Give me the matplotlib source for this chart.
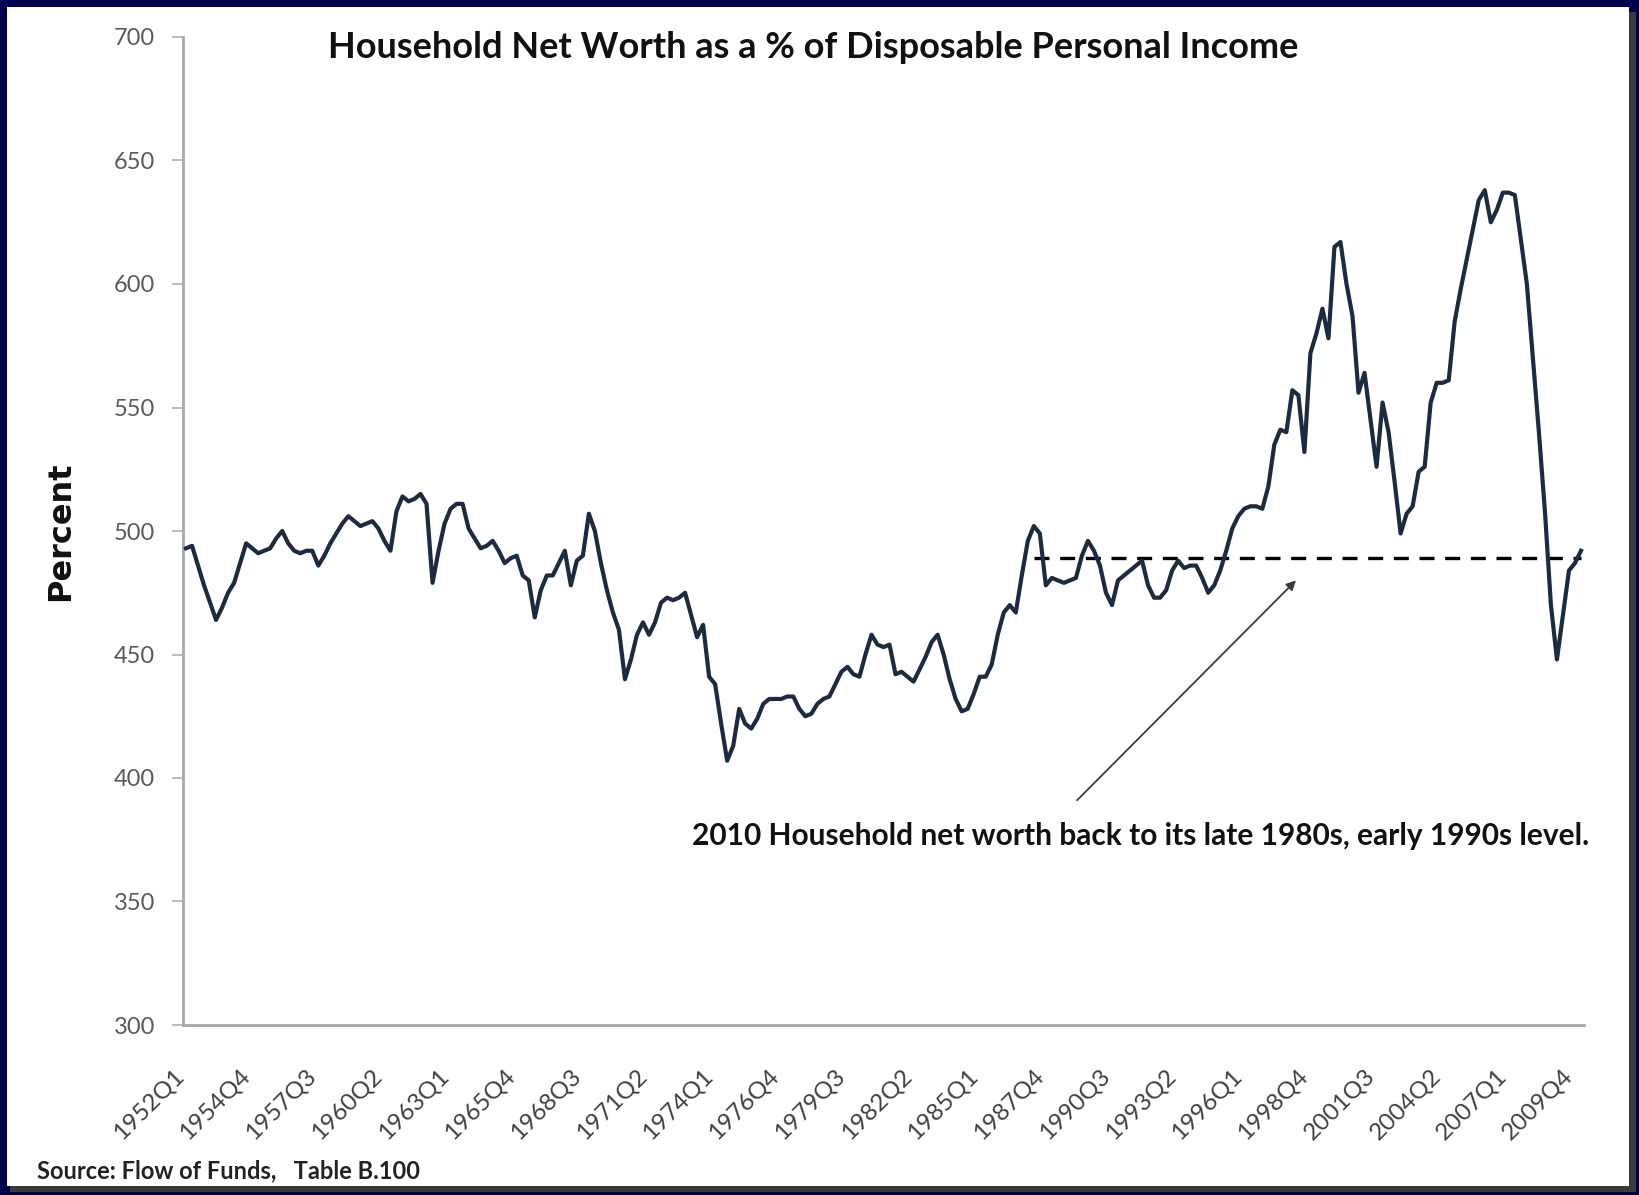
import matplotlib
matplotlib.use("Agg")
import matplotlib.pyplot as plt
from matplotlib.patches import Rectangle
from matplotlib.transforms import ScaledTranslation

plt.rcParams["font.family"] = ["Lato", "DejaVu Sans"]

# quarterly series, 1952Q1 .. 2010Q1
net_worth_pct = [
    493, 494, 486, 478, 471, 464, 469, 475, 479, 487,
    495, 493, 491, 492, 493, 497, 500, 495, 492, 491,
    492, 492, 486, 490, 495, 499, 503, 506, 504, 502,
    503, 504, 501, 496, 492, 508, 514, 512, 513, 515,
    511, 479, 492, 503, 509, 511, 511, 501, 497, 493,
    494, 496, 492, 487, 489, 490, 482, 480, 465, 476,
    482, 482, 487, 492, 478, 488, 490, 507, 500, 487,
    476, 467, 460, 440, 448, 458, 463, 458, 463, 471,
    473, 472, 473, 475, 466, 457, 462, 441, 438, 422,
    407, 413, 428, 422, 420, 424, 430, 432, 432, 432,
    433, 433, 428, 425, 426, 430, 432, 433, 438, 443,
    445, 442, 441, 450, 458, 454, 453, 454, 442, 443,
    441, 439, 444, 449, 455, 458, 450, 440, 432, 427,
    428, 434, 441, 441, 446, 458, 467, 470, 467, 482,
    496, 502, 499, 478, 481, 480, 479, 480, 481, 490,
    496, 492, 486, 475, 470, 480, 482, 484, 486, 488,
    478, 473, 473, 476, 484, 488, 485, 486, 486, 481,
    475, 478, 484, 492, 501, 506, 509, 510, 510, 509,
    518, 535, 541, 540, 557, 555, 532, 572, 580, 590,
    578, 615, 617, 600, 587, 556, 564, 545, 526, 552,
    540, 520, 499, 507, 510, 524, 526, 552, 560, 560,
    561, 585, 598, 610, 622, 634, 638, 625, 630, 637,
    637, 636, 618, 600, 570, 540, 508, 470, 448, 466,
    484, 487, 492,
]
quarter_labels = [
    "1952Q1", "1954Q4", "1957Q3", "1960Q2", "1963Q1", "1965Q4", "1968Q3",
    "1971Q2", "1974Q1", "1976Q4", "1979Q3", "1982Q2", "1985Q1", "1987Q4",
    "1990Q3", "1993Q2", "1996Q1", "1998Q4", "2001Q3", "2004Q2", "2007Q1",
    "2009Q4",
]
label_step = 11
reference_level = 489
reference_start = 141
y_ticks = [300, 350, 400, 450, 500, 550, 600, 650, 700]

W, H = 1639, 1195
fig = plt.figure(figsize=(W / 100, H / 100), dpi=100, facecolor="#00004c")
fig.patches.append(Rectangle((10, 3), 1626, 1180, transform=None,
                             facecolor="#3a3a3a", edgecolor="none", zorder=-2))
fig.patches.append(Rectangle((7, 9), 1622, 1179, transform=None,
                             facecolor="white", edgecolor="none", zorder=-1))

ax = fig.add_axes([183 / W, 1 - 1025 / H, 1401 / W, (1025 - 37) / H])
ax.set_facecolor("none")

n = len(net_worth_pct)
xs = list(range(n))
ax.plot(xs, net_worth_pct, color="#1d2b40", lw=3.0, solid_joinstyle="round", zorder=3)
ax.plot([reference_start, n - 1], [reference_level, reference_level],
        color="black", lw=2.4, ls=(0, (4.5, 3.2)), zorder=2)

ax.set_xlim(-0.5, n - 0.5)
ax.set_ylim(300, 700)

ax.set_yticks(y_ticks)
ax.set_yticklabels([str(v) for v in y_ticks], fontsize=17, color="#595959")
ax.tick_params(axis="y", length=8, width=1.2, color="#b0b0b0", pad=12, direction="out")

tick_pos = list(range(0, n, label_step))[: len(quarter_labels)]
ax.set_xticks(tick_pos)
ax.set_xticklabels(quarter_labels, rotation=45, ha="right", va="top",
                   rotation_mode="anchor", fontsize=17.5, color="#404040")
ax.tick_params(axis="x", length=0, pad=29)
offset = ScaledTranslation(-13 / 100, 0, fig.dpi_scale_trans)
for lbl in ax.get_xticklabels():
    lbl.set_transform(lbl.get_transform() + offset)

for side in ("top", "right"):
    ax.spines[side].set_visible(False)
for side in ("left", "bottom"):
    ax.spines[side].set_color("#a8a8a8")
    ax.spines[side].set_linewidth(2)

fig.text(813 / W, 1 - 48 / H, "Household Net Worth as a % of Disposable Personal Income",
         ha="center", va="center", fontsize=26, fontweight="bold", color="#111111")
fig.text(61 / W, 1 - 531 / H, "Percent", rotation=90, ha="center", va="center",
         fontsize=23, fontweight="bold", color="#111111", family="DejaVu Sans")

ax.annotate("", xy=(184.6, 480), xytext=(148.2, 391),
            arrowprops=dict(arrowstyle="-|>", color="#3c3c3c", lw=1.3,
                            mutation_scale=14, shrinkA=0, shrinkB=0))
ax.text(233.3, 376.5, "2010 Household net worth back to its late 1980s, early 1990s level.",
        ha="right", va="center", fontsize=21.5, fontweight="bold", color="#111111")

fig.text(37 / W, 1 - 1171 / H, "Source: Flow of Funds,   Table B.100",
         ha="left", va="center", fontsize=17, fontweight="bold", color="#222222")

fig.savefig("out.png", dpi=100, facecolor=fig.get_facecolor())
